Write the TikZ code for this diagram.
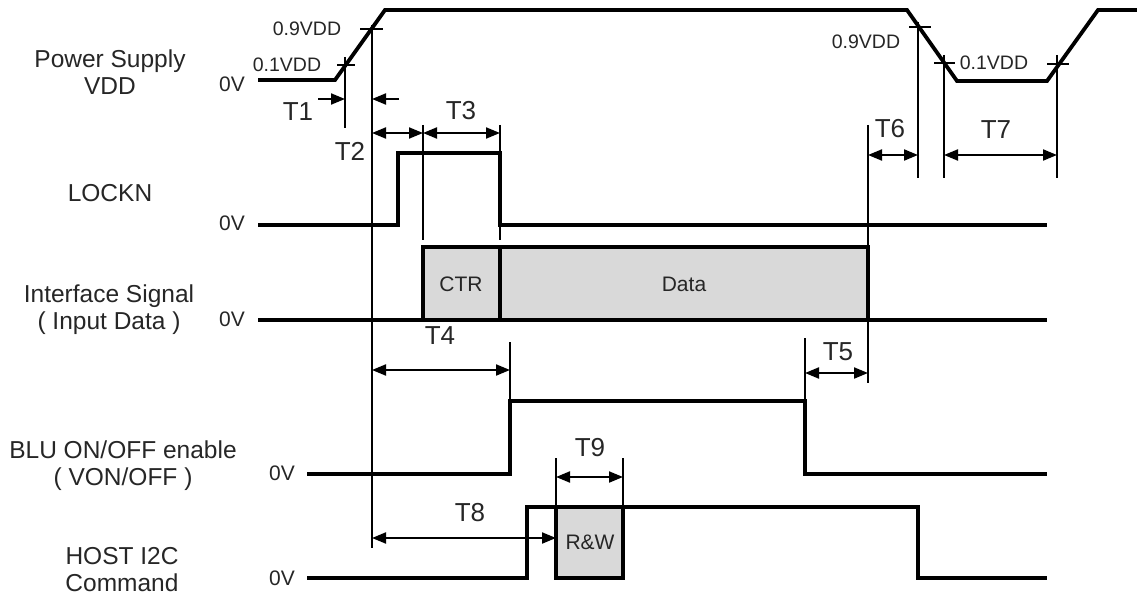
\documentclass[tikz,border=0pt]{standalone}
\usepackage{fontspec}
\setmainfont{Liberation Sans}
\usetikzlibrary{arrows.meta}
\definecolor{boxgray}{HTML}{D9D9D9}
\definecolor{txt}{HTML}{262626}
\begin{document}
\begin{tikzpicture}[x=1pt,y=-1pt,
  sig/.style={line width=3.8pt, line join=miter},
  guide/.style={line width=1.5pt},
  tick/.style={line width=1.5pt},
  dimarr/.style={line width=2pt, {Triangle[length=14pt,width=11pt]}-{Triangle[length=14pt,width=11pt]}},
  onearr/.style={line width=2pt, -{Triangle[length=14pt,width=11pt]}},
  lab/.style={text=txt, font=\fontsize{24.5}{27}\selectfont, align=center, inner sep=0pt},
  tlab/.style={text=txt, font=\fontsize{26}{28}\selectfont, inner sep=0pt},
  lvl/.style={text=txt, font=\fontsize{19.5}{21}\selectfont, inner sep=0pt},
  zv/.style={text=txt, font=\fontsize{21}{23}\selectfont, inner sep=0pt, anchor=east},
  boxlab/.style={text=txt, font=\fontsize{21}{23}\selectfont, inner sep=0pt}]
\useasboundingbox (0,0) rectangle (1137,599);

% left labels
\node[lab] (lpow) at (110,72) {Power Supply\\VDD};
\node[lab] (llock) at (110,193) {LOCKN};
\node[lab] (lif) at (109,310) {Interface Signal\\( Input Data )};
\node[lab] (lblu) at (123,466) {BLU ON/OFF enable\\( VON/OFF )};
\node[lab] (lhost) at (122,570) {HOST I2C\\Command};

% 0V labels
\node[zv] (z1) at (245,84) {0V};
\node[zv] (z2) at (245,223) {0V};
\node[zv] (z3) at (245,319) {0V};
\node[zv] (z4) at (295,473) {0V};
\node[zv] (z5) at (295,578) {0V};

% signals
\draw[sig] (258,80) -- (335,80) -- (385,10) -- (907,10) -- (957,81) -- (1047,81) -- (1098,10) -- (1140,10);
\draw[sig] (258,225) -- (398,225) -- (398,153) -- (500,153) -- (500,225) -- (1047,225);
\draw[sig] (258,320) -- (1047,320);
\draw[sig, fill=boxgray] (423,320) rectangle (500,247);
\draw[sig, fill=boxgray] (500,320) rectangle (868,247);
\draw[sig] (307,474) -- (510,474) -- (510,401) -- (805,401) -- (805,474) -- (1047,474);
\draw[sig] (307,578) -- (527,578) -- (527,507) -- (918,507) -- (918,578) -- (1047,578);
\draw[sig, fill=boxgray] (556,578) rectangle (623,507);

\node[boxlab] (ctr) at (461,284) {CTR};
\node[boxlab] (data) at (684,284) {Data};
\node[boxlab] (rw) at (590,542) {R\&W};

% guide lines
\coordinate (g1a) at (345,57);  \coordinate (g1b) at (345,128);
\coordinate (g2a) at (372,25);  \coordinate (g2b) at (372,548);
\coordinate (g3a) at (423,125); \coordinate (g3b) at (423,240);
\coordinate (g4a) at (500,125); \coordinate (g4b) at (500,240);
\coordinate (g5a) at (510,342); \coordinate (g5b) at (510,401);
\coordinate (g6a) at (868,125); \coordinate (g6b) at (868,383);
\coordinate (g7a) at (805,338); \coordinate (g7b) at (805,401);
\coordinate (g8a) at (918,22);  \coordinate (g8b) at (918,178);
\coordinate (g9a) at (944,55);  \coordinate (g9b) at (944,178);
\coordinate (g10a) at (1057,55); \coordinate (g10b) at (1057,178);
\coordinate (g11a) at (556,458); \coordinate (g11b) at (556,507);
\coordinate (g12a) at (623,458); \coordinate (g12b) at (623,507);
\foreach \i in {1,...,12} \draw[guide] (g\i a) -- (g\i b);

% level ticks
\draw[tick] (337,65) -- (355,65);
\draw[tick] (360,29) -- (383,29);
\draw[tick] (909,27) -- (931,27);
\draw[tick] (934,63) -- (955,63);
\draw[tick] (1047,64) -- (1069,64);

\node[lvl] (v09a) at (307,29) {0.9VDD};
\node[lvl] (v01a) at (287,65) {0.1VDD};
\node[lvl] (v09b) at (866,42) {0.9VDD};
\node[lvl] (v01b) at (994,63) {0.1VDD};

% dimension arrows
\coordinate (t1l) at (318,99); \coordinate (t1a) at (345,99);
\coordinate (t1r) at (399,99); \coordinate (t1b) at (372,99);
\draw[onearr] (t1l) -- (t1a);
\draw[onearr] (t1r) -- (t1b);
\draw[dimarr] (372,133) coordinate (t2a) -- (423,133) coordinate (t2b);
\draw[dimarr] (423,133) coordinate (t3a) -- (500,133) coordinate (t3b);
\draw[dimarr] (372,370) coordinate (t4a) -- (510,370) coordinate (t4b);
\draw[dimarr] (805,373) coordinate (t5a) -- (868,373) coordinate (t5b);
\draw[dimarr] (868,155) coordinate (t6a) -- (918,155) coordinate (t6b);
\draw[dimarr] (944,155) coordinate (t7a) -- (1057,155) coordinate (t7b);
\draw[dimarr] (372,538) coordinate (t8a) -- (556,538) coordinate (t8b);
\draw[dimarr] (556,477) coordinate (t9a) -- (623,477) coordinate (t9b);

\node[tlab] (T1) at (298,112) {T1};
\node[tlab] (T2) at (350,151) {T2};
\node[tlab] (T3) at (461,111) {T3};
\node[tlab] (T4) at (440,336) {T4};
\node[tlab] (T5) at (838,352) {T5};
\node[tlab] (T6) at (890,129) {T6};
\node[tlab] (T7) at (996,130) {T7};
\node[tlab] (T8) at (470,513) {T8};
\node[tlab] (T9) at (590,448) {T9};
\end{tikzpicture}
\end{document}
